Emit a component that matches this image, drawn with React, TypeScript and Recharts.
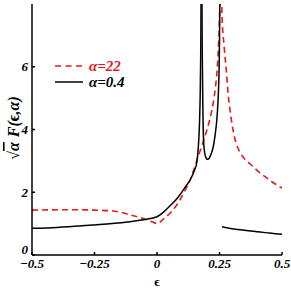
import React from 'react';
import { LineChart, Line, XAxis, YAxis } from 'recharts';

// alpha = 22 (red dashed), two branches split by the divergence at eps = 0.25
const red1Eps = [-0.5, -0.4, -0.3, -0.25, -0.19, -0.15, -0.108, -0.07, -0.041, -0.02, 0, 0.025, 0.052, 0.075, 0.092, 0.11, 0.133, 0.159, 0.18, 0.2, 0.215, 0.225, 0.233, 0.24, 0.245, 0.249, 0.252, 0.254];
const red1F = [1.43, 1.44, 1.44, 1.43, 1.41, 1.37, 1.28, 1.2, 1.12, 1.06, 1.0, 1.14, 1.33, 1.55, 1.76, 2.02, 2.4, 3.0, 3.5, 4.0, 4.45, 4.85, 5.3, 5.85, 6.5, 7.3, 8.2, 9.5];
const red2Eps = [0.256, 0.26, 0.268, 0.277, 0.285, 0.295, 0.305, 0.315, 0.33, 0.35, 0.373, 0.4, 0.44, 0.47, 0.5];
const red2F = [9.5, 7.6, 6.7, 5.9, 5.1, 4.45, 3.95, 3.6, 3.3, 3.07, 2.9, 2.7, 2.45, 2.28, 2.13];

// alpha = 0.4 (black), three branches
const blk1Eps = [-0.5, -0.4, -0.3, -0.25, -0.2, -0.1, -0.05, 0, 0.025, 0.052, 0.075, 0.092, 0.11, 0.133, 0.15, 0.159, 0.165, 0.17, 0.173, 0.175, 0.177];
const blk1F = [0.85, 0.88, 0.93, 0.96, 0.99, 1.07, 1.13, 1.22, 1.36, 1.57, 1.75, 1.92, 2.13, 2.4, 2.7, 2.94, 3.4, 4.2, 5.2, 6.5, 9.0];
const blk2Eps = [0.179, 0.181, 0.183, 0.186, 0.19, 0.195, 0.202, 0.21, 0.218, 0.225, 0.232, 0.238, 0.244, 0.248, 0.25, 0.252];
const blk2F = [9.0, 6.5, 5.0, 3.7, 3.3, 3.12, 3.05, 3.1, 3.25, 3.45, 3.8, 4.2, 4.9, 5.8, 6.8, 9.0];
const blk3Eps = [0.26, 0.3, 0.35, 0.4, 0.45, 0.5];
const blk3F = [0.9, 0.84, 0.79, 0.74, 0.7, 0.66];

const xTicks = [-0.5, -0.25, 0, 0.25, 0.5];
const yTicks = [0, 2, 4, 6];

const toRows = (eps: number[], f: number[]) => eps.map((e, i) => ({ eps: e, f: f[i] }));

const RED = '#e41a1c';
const SERIF = '"Liberation Serif", "Times New Roman", serif';
const tickFont = {
  fill: '#000',
  fontFamily: SERIF,
  fontWeight: 700,
  fontStyle: 'italic',
  fontSize: 13,
};

const fmtX = (v: number) => (v === 0 ? '0' : v < 0 ? '\u2212' + String(-v) : String(v));

// y tick: the "0" sits a little above the corner like in the original
const YTick = (props: any) => {
  const { x, y, payload } = props;
  return (
    <text x={x} y={payload.value === 0 ? y - 6 : y} textAnchor="end" dominantBaseline="central" {...tickFont}>
      {payload.value}
    </text>
  );
};

const YLabel = () => (
  <text
    x={13}
    y={128}
    transform="rotate(-90, 13, 128)"
    textAnchor="middle"
    dominantBaseline="central"
    fontFamily={SERIF}
    fontWeight={700}
    fontStyle="italic"
    fontSize={16}
    fill="#000"
  >
    <tspan fontStyle="normal">{'\u221A'}</tspan>
    <tspan textDecoration="overline">{'\u03B1'}</tspan>
    <tspan dx={5}>F(</tspan>
    <tspan fontStyle="normal">{'\u03F5'}</tspan>
    <tspan>,{'\u03B1'})</tspan>
  </text>
);

const XLabel = () => (
  <text
    x={157}
    y={281}
    textAnchor="middle"
    dominantBaseline="central"
    fontFamily={SERIF}
    fontWeight={700}
    fontSize={13}
    fill="#000"
  >
    {'\u03F5'}
  </text>
);

const legendText = {
  fontFamily: SERIF,
  fontWeight: 700,
  fontStyle: 'italic' as const,
  fontSize: 15,
};

export default function App() {
  return (
    <div style={{ position: 'absolute', left: 0, top: 0, width: 291, height: 291, background: '#fff' }}>
      <LineChart width={291} height={291} margin={{ top: 4, right: 9, bottom: 0, left: 0 }}>
        <XAxis
          dataKey="eps"
          type="number"
          domain={[-0.5, 0.5]}
          ticks={xTicks}
          tickFormatter={fmtX}
          height={36}
          allowDataOverflow
          stroke="#000"
          strokeWidth={1.5}
          tickSize={-3}
          tickMargin={7}
          tick={tickFont}
          label={<XLabel />}
        />
        <XAxis xAxisId="top" orientation="top" type="number" domain={[-0.5, 0.5]} height={0} tick={false} tickLine={false} stroke="#000" strokeWidth={1.5} />
        <YAxis
          type="number"
          domain={[0, 8]}
          ticks={yTicks}
          width={32}
          allowDataOverflow
          stroke="#000"
          strokeWidth={1.5}
          tickSize={-3}
          tickMargin={7}
          tick={<YTick />}
          label={<YLabel />}
        />
        <YAxis yAxisId="right" orientation="right" type="number" domain={[0, 8]} width={0} tick={false} tickLine={false} stroke="#000" strokeWidth={1.5} />
        <Line data={toRows(red1Eps, red1F)} dataKey="f" type="monotone" stroke={RED} strokeWidth={1.6} strokeDasharray="6 4" dot={false} isAnimationActive={false} />
        <Line data={toRows(red2Eps, red2F)} dataKey="f" type="monotone" stroke={RED} strokeWidth={1.6} strokeDasharray="6 4" dot={false} isAnimationActive={false} />
        <Line data={toRows(blk1Eps, blk1F)} dataKey="f" type="monotone" stroke="#000" strokeWidth={1.5} dot={false} isAnimationActive={false} />
        <Line data={toRows(blk2Eps, blk2F)} dataKey="f" type="monotone" stroke="#000" strokeWidth={1.5} dot={false} isAnimationActive={false} />
        <Line data={toRows(blk3Eps, blk3F)} dataKey="f" type="monotone" stroke="#000" strokeWidth={1.5} dot={false} isAnimationActive={false} />
      </LineChart>

      {/* legend */}
      <div style={{ position: 'absolute', left: 55, top: 58 }}>
        <div style={{ display: 'flex', alignItems: 'center', height: 16 }}>
          <svg width={28} height={4}>
            <line x1={0} y1={2} x2={28} y2={2} stroke={RED} strokeWidth={1.6} strokeDasharray="6 4.5" />
          </svg>
          <span style={{ ...legendText, color: RED, marginLeft: 6 }}>{'\u03B1'}=22</span>
        </div>
        <div style={{ display: 'flex', alignItems: 'center', height: 16 }}>
          <svg width={28} height={4}>
            <line x1={0} y1={2} x2={28} y2={2} stroke="#000" strokeWidth={1.5} />
          </svg>
          <span style={{ ...legendText, color: '#000', marginLeft: 6 }}>{'\u03B1'}=0.4</span>
        </div>
      </div>
    </div>
  );
}
